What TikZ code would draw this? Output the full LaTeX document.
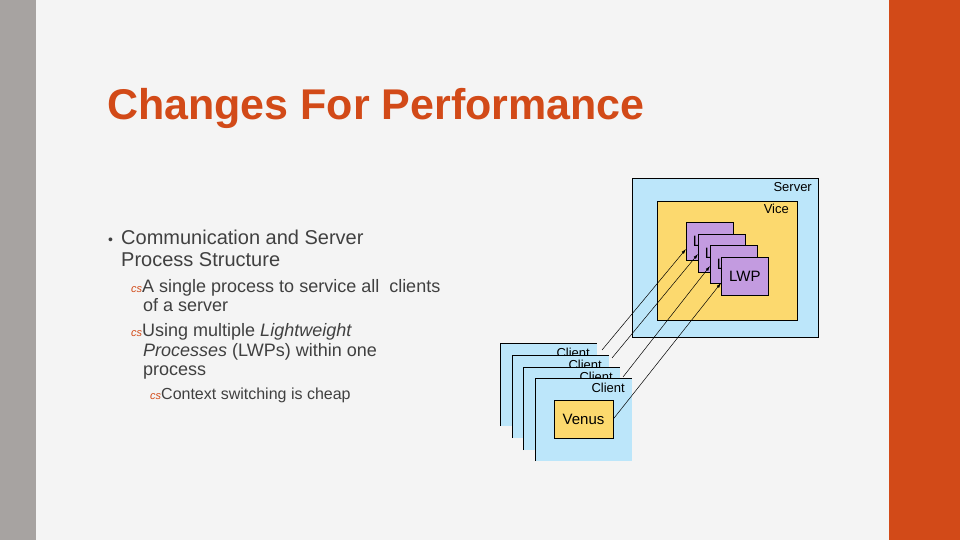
\documentclass[tikz,border=0pt]{standalone}
\usepackage{fontspec}
\setmainfont{Liberation Sans}
\usetikzlibrary{arrows.meta}
\definecolor{bg}{HTML}{F4F4F4}
\definecolor{greystrip}{HTML}{A7A3A1}
\definecolor{orng}{HTML}{D24A18}
\definecolor{txt}{HTML}{404040}
\definecolor{sky}{HTML}{BCE6FA}
\definecolor{sand}{HTML}{FCD96E}
\definecolor{lilac}{HTML}{C39BE0}
\tikzset{
  x=1pt,y=-1pt,
  box/.style={draw=black,line width=0.6pt},
  lwp/.style={box,fill=lilac,minimum width=47pt,minimum height=38pt,inner sep=0pt,font=\fontsize{15}{15}\selectfont,text=black},
  line/.style={anchor=base west,inner sep=0pt,text=txt},
  conn/.style={-{Latex[length=5pt,width=3pt]},line width=0.5pt,black},
  lab/.style={anchor=north east,inner sep=0pt,font=\fontsize{13}{13}\selectfont}
}
\newcommand{\cbul}{{\color{orng}\fontsize{11}{11}\selectfont\itshape cs}}
\begin{document}
\begin{tikzpicture}
\useasboundingbox (0,0) rectangle (960,540);
\fill[bg] (0,0) rectangle (960,540);
\fill[greystrip] (0,0) rectangle (36,540);
\fill[orng] (889,0) rectangle (960,540);
\node[anchor=base west,inner sep=0pt,text=orng,font=\fontsize{43}{43}\selectfont\bfseries] (title) at (107,120) {Changes For Performance};
% body
\node[line,font=\fontsize{14}{14}\selectfont] (b0) at (108,244) {\textbullet};
\node[line,font=\fontsize{20}{20}\selectfont] (l1) at (121,244) {Communication and Server};
\node[line,font=\fontsize{20}{20}\selectfont] (l2) at (121,266) {Process Structure};
\node[line,font=\fontsize{18}{18}\selectfont] (l3) at (131,292) {\cbul A single process to service all\ \ clients};
\node[line,font=\fontsize{18}{18}\selectfont] (l4) at (143,311) {of a server};
\node[line,font=\fontsize{18}{18}\selectfont] (l5) at (131,336) {\cbul Using multiple \textit{Lightweight}};
\node[line,font=\fontsize{18}{18}\selectfont] (l6) at (143,356) {\textit{Processes} (LWPs) within one};
\node[line,font=\fontsize{18}{18}\selectfont] (l7) at (143,375) {process};
\node[line,font=\fontsize{16}{16}\selectfont] (l8) at (150,399) {\cbul Context switching is cheap};
% server
\draw[box,fill=sky] (632,178) rectangle (818,337);
\node[lab] (srv) at (812,182) {Server};
\draw[box,fill=sand] (657,201) rectangle (797,320);
\node[lab] (vice) at (789,204) {Vice};
\node[lwp,anchor=north west,text width=42pt,align=left] (w1) at (686,222) {\hspace{4pt}LWP};
\node[lwp,anchor=north west,text width=42pt,align=left] (w2) at (698,234) {\hspace{4pt}LWP};
\node[lwp,anchor=north west,text width=42pt,align=left] (w3) at (710,245) {\hspace{4pt}LWP};
\node[lwp,anchor=north west] (w4) at (721,257) {LWP};
% clients
\foreach \i/\x/\y in {1/500/343,2/512/355,3/523/367,4/535/378}{
  \fill[sky] (\x,\y) rectangle ++(97,83);
  \draw[line width=0.6pt] (\x,\y+83) -- (\x,\y) -- ++(97,0);
  \node[lab] (c\i) at (\x+90,\y+5) {Client};
}
\node[box,fill=sand,minimum width=59pt,minimum height=38pt,inner sep=0pt,font=\fontsize{15}{15}\selectfont] (venus) at (583.5,419) {Venus};
% connectors
\coordinate (s1) at (602,350);
\coordinate (s2) at (612,358);
\coordinate (s3) at (623,377);
\coordinate (e1) at (686,249);
\coordinate (e2) at (698,254);
\coordinate (e3) at (710,266);
\coordinate (e4) at (721,283);
\draw[conn] (s1) -- (e1);
\draw[conn] (s2) -- (e2);
\draw[conn] (s3) -- (e3);
\draw[conn] (venus.east) -- (e4);
\end{tikzpicture}
\end{document}
